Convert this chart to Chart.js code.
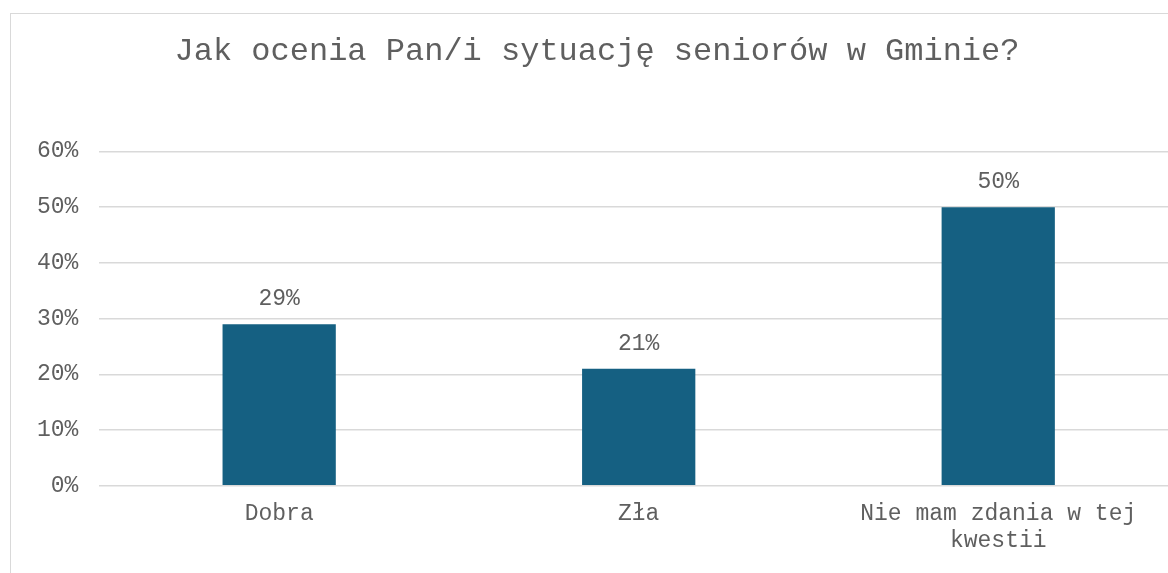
<!DOCTYPE html>
<html lang="pl">
<head>
<meta charset="utf-8">
<title>Jak ocenia Pan/i sytuację seniorów w Gminie?</title>
<script src="https://cdn.jsdelivr.net/npm/chart.js@4.4.1/dist/chart.umd.min.js"></script>
<style>
    html, body {
        margin: 0;
        padding: 0;
        background: #ffffff;
        overflow: hidden;
    }
    #ramka {
        position: absolute;
        left: 10px;
        top: 13px;
        width: 1168px;
        height: 600px;
        border: 1px solid #d9d9d9;
        background: #ffffff;
    }
</style>
</head>
<body>
<div id="ramka">
    <canvas id="wykres"></canvas>
</div>
<script>
// Dane z wykresu
const kategorie = ['Dobra', 'Zła', ['Nie mam zdania w tej', 'kwestii']];
const odsetki = [29, 21, 50];
const osY = { min: 0, max: 60, krok: 10 };

const czcionka = "'Courier New', 'Liberation Mono', monospace";
const kolorTekstu = '#5f5f5f';

// Etykiety z wartościami nad słupkami
const etykietyDanych = {
    id: 'etykietyDanych',
    afterDatasetsDraw(chart) {
        const ctx = chart.ctx;
        const meta = chart.getDatasetMeta(0);
        ctx.save();
        ctx.font = '23px ' + czcionka;
        ctx.fillStyle = kolorTekstu;
        ctx.textAlign = 'center';
        ctx.textBaseline = 'middle';
        meta.data.forEach((slupek, i) => {
            ctx.fillText(odsetki[i] + '%', slupek.x, slupek.y - 25);
        });
        ctx.restore();
    }
};

document.addEventListener('DOMContentLoaded', function() {
    const ctx = document.getElementById('wykres').getContext('2d');

    new Chart(ctx, {
        type: 'bar',
        data: {
            labels: kategorie,
            datasets: [{
                data: odsetki,
                backgroundColor: '#156082',
                borderWidth: 0,
                barPercentage: 1,
                categoryPercentage: 0.315
            }]
        },
        options: {
            responsive: true,
            maintainAspectRatio: false,
            animation: false,
            layout: {
                padding: { left: 5, right: 1, top: 0, bottom: 45 }
            },
            plugins: {
                legend: { display: false },
                tooltip: { enabled: false },
                title: {
                    display: true,
                    text: 'Jak ocenia Pan/i sytuację seniorów w Gminie?',
                    color: kolorTekstu,
                    font: { family: czcionka, size: 32, weight: 'normal' },
                    padding: { top: 18, bottom: 81 }
                }
            },
            scales: {
                x: {
                    grid: { display: false, drawTicks: false },
                    border: { display: false },
                    ticks: {
                        color: kolorTekstu,
                        font: { family: czcionka, size: 23 },
                        padding: 14,
                        maxRotation: 0,
                        autoSkip: false
                    }
                },
                y: {
                    min: osY.min,
                    max: osY.max,
                    border: { display: false },
                    grid: {
                        color: '#d9d9d9',
                        lineWidth: 1.5,
                        drawTicks: false
                    },
                    ticks: {
                        stepSize: osY.krok,
                        color: kolorTekstu,
                        font: { family: czcionka, size: 23 },
                        padding: 21,
                        callback: function(v) { return v + '%'; }
                    }
                }
            }
        },
        plugins: [etykietyDanych]
    });
});
</script>
</body>
</html>
